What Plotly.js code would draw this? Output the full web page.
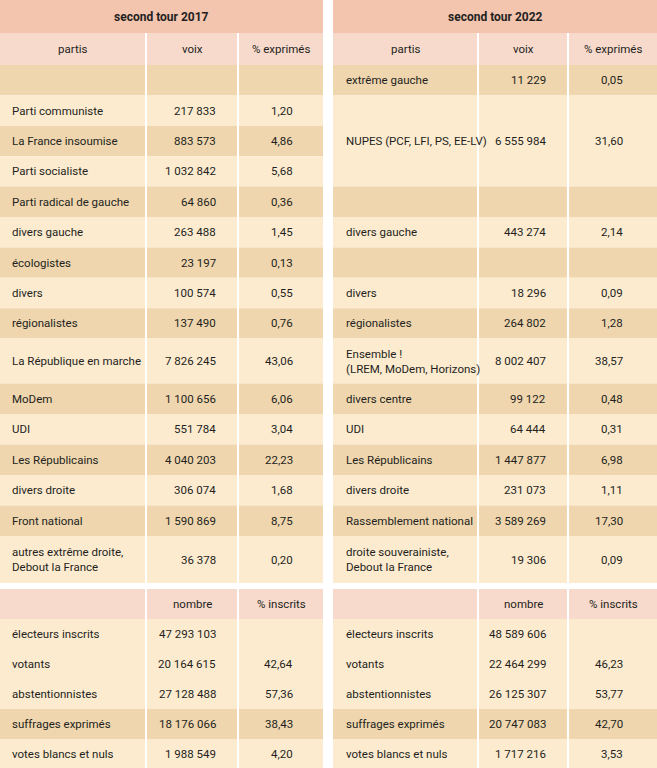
<!DOCTYPE html>
<html><head><meta charset="utf-8">
<script src="https://cdn.plot.ly/plotly-3.0.1.min.js"></script>
<style>html,body{margin:0;padding:0;background:#fff}</style>
</head><body><div id="chart" style="width:657px;height:768px"></div>
<script>
// ---------- DATA ----------
const titles = ["second tour 2017", "second tour 2022"];
const partyHeaders = ["partis", "voix", "% exprimés"];
const statHeaders = ["", "nombre", "% inscrits"];

const parties2017 = ["", "Parti communiste", "La France insoumise", "Parti socialiste", "Parti radical de gauche", "divers gauche", "écologistes", "divers", "régionalistes", "La République en marche", "MoDem", "UDI", "Les Républicains", "divers droite", "Front national", "autres extrême droite,<br>Debout la France"];
const voix2017 = [null, 217833, 883573, 1032842, 64860, 263488, 23197, 100574, 137490, 7826245, 1100656, 551784, 4040203, 306074, 1590869, 36378];
const pct2017 = [null, 1.20, 4.86, 5.68, 0.36, 1.45, 0.13, 0.55, 0.76, 43.06, 6.06, 3.04, 22.23, 1.68, 8.75, 0.20];

const parties2022 = ["extrême gauche", "NUPES (PCF, LFI, PS, EE-LV)", "", "divers gauche", "", "divers", "régionalistes", "Ensemble !<br>(LREM, MoDem, Horizons)", "divers centre", "UDI", "Les Républicains", "divers droite", "Rassemblement national", "droite souverainiste,<br>Debout la France"];
const voix2022 = [11229, 6555984, null, 443274, null, 18296, 264802, 8002407, 99122, 64444, 1447877, 231073, 3589269, 19306];
const pct2022 = [0.05, 31.60, null, 2.14, null, 0.09, 1.28, 38.57, 0.48, 0.31, 6.98, 1.11, 17.30, 0.09];

const statLabels = ["électeurs inscrits", "votants", "abstentionnistes", "suffrages exprimés", "votes blancs et nuls"];
const nombre2017 = [47293103, 20164615, 27128488, 18176066, 1988549];
const inscrits2017 = [null, 42.64, 57.36, 38.43, 4.20];
const nombre2022 = [48589606, 22464299, 26125307, 20747083, 1717216];
const inscrits2022 = [null, 46.23, 53.77, 42.70, 3.53];

// ---------- LAYOUT / STYLE ----------
const W = 657, H = 768;
const FONT = "Roboto";
const TXT = "#231f20";
const C_TITLE = "#f3c4ae", C_HEAD = "#f8dacd", C_DARK = "#efd6ae", C_LIGHT = "#fdebd0";
const BODY_SIZE = 11.5, TITLE_SIZE = 12;

const titleTop = 0, titleH = 33, headH = 32;
const gridH = [30.4,30.4,30.4,30.4,30.4,30.4,30.4,30.4,30.4, 45, 30.5,30.5,30.5,30.5,30.5, 47];
const span2017 = parties2017.map(() => 1);
const span2022 = [1,3,1,1,1,1,1,1,1,1,1,1,1,1];
const gapAfterBody = 6, statHeadH = 30, statRowH = 30;
const statDark = [false, false, false, true, false];

const tables = [
  {cols: [[0,145],[147,237],[239,323]], padL: 10, voixR: 218, pctR: 295,
   title: titles[0], names: parties2017, voix: voix2017, pct: pct2017, span: span2017,
   nombre: nombre2017, inscrits: inscrits2017},
  {cols: [[333,477],[479,567],[569,657]], padL: 11, voixR: 548, pctR: 625,
   title: titles[1], names: parties2022, voix: voix2022, pct: pct2022, span: span2022,
   nombre: nombre2022, inscrits: inscrits2022}
];

function fmtInt(v) {
  if (v === null || v === undefined) return "";
  return String(Math.round(v)).replace(/\B(?=(\d{3})+(?!\d))/g, " ");
}
function fmtPct(v) {
  if (v === null || v === undefined) return "";
  return v.toFixed(2).replace(".", ",");
}

const shapes = [], annotations = [];
function rect(x0, x1, y0, y1, color) {
  shapes.push({type: "rect", xref: "x", yref: "y", x0: x0, x1: x1, y0: y0, y1: y1,
    fillcolor: color, line: {width: 0}, layer: "below"});
}
function txt(x, y, text, anchor, bold, size) {
  annotations.push({x: x, y: y, xref: "x", yref: "y", text: bold ? "<b>" + text + "</b>" : text,
    showarrow: false, xanchor: anchor, yanchor: "middle", align: anchor === "right" ? "right" : "left",
    font: {family: FONT, size: size || BODY_SIZE, color: TXT}});
}

const bodyTop = titleTop + titleH + headH;
const gridY = [bodyTop];
gridH.forEach(h => gridY.push(gridY[gridY.length - 1] + h));
const bodyBottom = gridY[gridY.length - 1];
const statTop = bodyBottom + gapAfterBody;

tables.forEach(t => {
  const x0 = t.cols[0][0], x1 = t.cols[2][1];
  rect(x0, x1, titleTop, titleTop + titleH, C_TITLE);
  txt((x0 + x1) / 2, titleTop + titleH / 2, t.title, "center", true, TITLE_SIZE);
  t.cols.forEach((c, j) => {
    rect(c[0], c[1], titleTop + titleH, bodyTop, C_HEAD);
    txt((c[0] + c[1]) / 2, titleTop + titleH + headH / 2, partyHeaders[j], "center");
  });
  let g = 0;
  t.names.forEach((name, i) => {
    const s = t.span[i];
    const y0 = gridY[g], y1 = gridY[g + s];
    const color = (g % 2 === 0) ? C_DARK : C_LIGHT;
    t.cols.forEach(c => rect(c[0], c[1], y0, y1, color));
    const ym = (y0 + y1) / 2;
    if (name) txt(t.cols[0][0] + t.padL, ym, name, "left");
    if (t.voix[i] !== null) txt(t.voixR, ym, fmtInt(t.voix[i]), "right");
    if (t.pct[i] !== null) txt(t.pctR, ym, fmtPct(t.pct[i]), "right");
    g += s;
  });
  t.cols.forEach((c, j) => {
    rect(c[0], c[1], statTop, statTop + statHeadH, C_HEAD);
    if (statHeaders[j]) txt((c[0] + c[1]) / 2, statTop + statHeadH / 2, statHeaders[j], "center");
  });
  statLabels.forEach((lab, i) => {
    const y0 = statTop + statHeadH + i * statRowH, y1 = y0 + statRowH;
    const color = statDark[i] ? C_DARK : C_LIGHT;
    t.cols.forEach(c => rect(c[0], c[1], y0, y1 + (i === statLabels.length - 1 ? 5 : 0), color));
    const ym = (y0 + y1) / 2;
    txt(t.cols[0][0] + t.padL, ym, lab, "left");
    txt(t.voixR, ym, fmtInt(t.nombre[i]), "right");
    if (t.inscrits[i] !== null) txt(t.pctR, ym, fmtPct(t.inscrits[i]), "right");
  });
});

const layout = {
  width: W, height: H, margin: {l: 0, r: 0, t: 0, b: 0},
  paper_bgcolor: "#ffffff", plot_bgcolor: "#ffffff",
  xaxis: {range: [0, W], visible: false, fixedrange: true},
  yaxis: {range: [H, 0], visible: false, fixedrange: true},
  showlegend: false, shapes: shapes, annotations: annotations,
  font: {family: FONT}
};
Plotly.newPlot("chart", [{type: "scatter", x: [], y: [], mode: "markers", hoverinfo: "skip"}], layout, {displayModeBar: false, staticPlot: true});
</script></body></html>
